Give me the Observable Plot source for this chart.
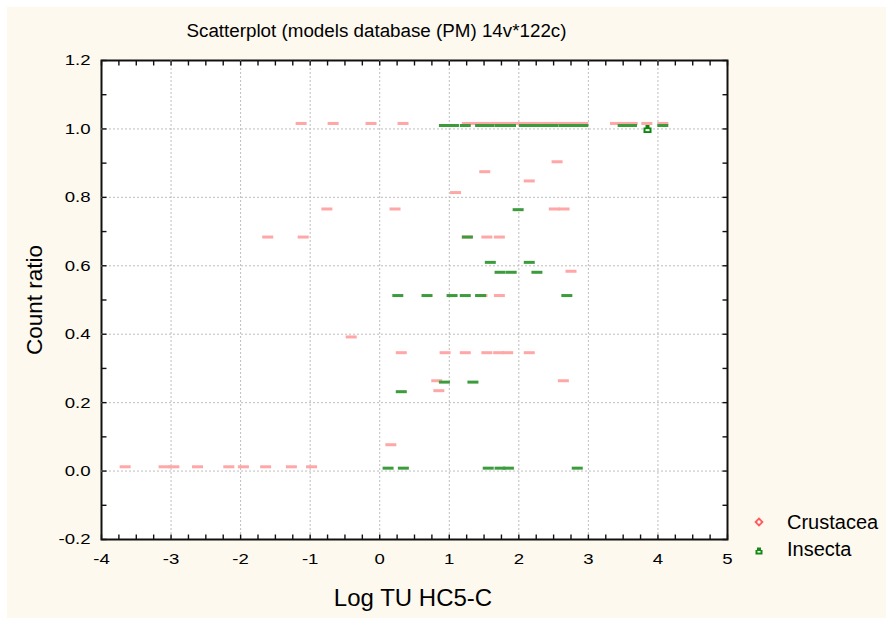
<!DOCTYPE html>
<html><head><meta charset="utf-8">
<script src="https://cdn.jsdelivr.net/npm/d3@7"></script>
<script src="https://cdn.jsdelivr.net/npm/@observablehq/plot@0.6"></script>
<style>
html,body{margin:0;padding:0;background:#fff;}
#wrap{position:relative;width:886px;height:618px;overflow:hidden;}
#bg{position:absolute;left:7px;top:7px;right:0;bottom:0;background:#fdf9ef;}
#chart{position:absolute;left:0;top:0;}
.t{position:absolute;font-family:"Liberation Sans",Arial,sans-serif;color:#000;white-space:nowrap;line-height:1;}
.ico{position:absolute;}
</style></head>
<body>
<div id="wrap">
<div id="bg"></div>
<div class="t" id="title" style="left:376.5px;top:22px;font-size:18.8px;transform:translateX(-50%);">Scatterplot (models database (PM) 14v*122c)</div>
<div class="t" id="ylab" style="left:35px;top:300px;font-size:22.5px;transform:translate(-50%,-50%) rotate(-90deg);">Count ratio</div>
<div class="t" id="xlab" style="left:413px;top:585.5px;font-size:24px;transform:translateX(-50%);">Log TU HC5-C</div>
<svg class="ico" style="left:752px;top:515px" width="14" height="14"><path d="M7,2.3L11.7,7L7,11.7L2.3,7Z" fill="#ff5a5a"/><circle cx="7" cy="7" r="1.7" fill="#fff"/></svg>
<div class="t" style="left:787px;top:512px;font-size:20px;">Crustacea</div>
<svg class="ico" style="left:752px;top:544px" width="14" height="14"><path d="M5,3.5H9V6H10.5V10.5H3.5V6H5Z" fill="#138a13"/><rect x="5.5" y="7" width="3" height="1.6" fill="#fff"/></svg>
<div class="t" style="left:787px;top:538.5px;font-size:20px;">Insecta</div>
<div id="chart"></div>
</div>
<script>
// ---- data ----
const crustaceaX = [-1.13, -0.67, -0.125, 0.335, 1.26, 1.40, 1.55, 1.69, 1.83, 1.98, 2.12, 2.26, 2.41, 2.55, 2.69, 2.84, 2.92, 3.39, 3.51, 3.63, 3.84, 4.07,
  2.55, 1.51, 2.15, 1.09,
  -0.76, 0.22, 2.51, 2.65,
  -1.61, -1.10, 1.26, 1.54, 1.72,
  2.75, 1.47, 1.72, -0.41,
  0.31, 0.94, 1.23, 1.54, 1.71, 1.84, 2.15,
  0.82, 2.64, 0.85, 0.16,
  -3.66, -3.10, -2.96, -2.62, -2.17, -1.96, -1.64, -1.27, -0.98];
const crustaceaY = [1.016, 1.016, 1.016, 1.016, 1.016, 1.016, 1.016, 1.016, 1.016, 1.016, 1.016, 1.016, 1.016, 1.016, 1.016, 1.016, 1.016, 1.016, 1.016, 1.016, 1.016, 1.016,
  0.904, 0.875, 0.848, 0.814,
  0.766, 0.766, 0.766, 0.766,
  0.684, 0.684, 0.684, 0.684, 0.684,
  0.584, 0.513, 0.513, 0.392,
  0.346, 0.346, 0.346, 0.346, 0.346, 0.346, 0.346,
  0.264, 0.264, 0.235, 0.077,
  0.0125, 0.0125, 0.0125, 0.0125, 0.0125, 0.0125, 0.0125, 0.0125, 0.0125];
const insectaX = [0.93, 1.06, 1.23, 1.45, 1.57, 1.73, 1.88, 2.08, 2.21, 2.36, 2.49, 2.65, 2.79, 2.92, 3.50, 3.62, 4.07,
  1.99, 1.26, 1.59, 2.15, 1.73, 1.89, 2.26,
  0.26, 0.68, 1.04, 1.23, 1.45, 2.69,
  0.93, 1.34, 0.31,
  0.12, 0.34, 1.56, 1.73, 1.85, 2.84];
const insectaY = [1.010, 1.010, 1.010, 1.010, 1.010, 1.010, 1.010, 1.010, 1.010, 1.010, 1.010, 1.010, 1.010, 1.010, 1.010, 1.010, 1.010,
  0.764, 0.684, 0.61, 0.61, 0.581, 0.581, 0.581,
  0.513, 0.513, 0.513, 0.513, 0.513, 0.513,
  0.26, 0.26, 0.232,
  0.0085, 0.0085, 0.0085, 0.0085, 0.0085, 0.0085];
const insectaBigX = [3.85];
const insectaBigY = [1.0];

const xTicks = [-4, -3, -2, -1, 0, 1, 2, 3, 4, 5];
const yTicks = [-0.2, 0, 0.2, 0.4, 0.6, 0.8, 1.0, 1.2];
const xGrid = [-3, -2, -1, 0, 1, 2, 3, 4];
const yGrid = [0, 0.2, 0.4, 0.6, 0.8, 1.0];

const crustacea = crustaceaX.map((x, i) => ({x, y: crustaceaY[i]}));
const insecta = insectaX.map((x, i) => ({x, y: insectaY[i]}));
const insectaBig = insectaBigX.map((x, i) => ({x, y: insectaBigY[i]}));

const xMinor = d3.range(-4, 5.0001, 0.25);
const yMinor = d3.range(-2, 12.0001, 1).map(v => v / 10);

const W = 886, H = 618, ML = 101, MR = 159, MT = 60, MB = 79;

const dash = {draw(ctx) { ctx.rect(-5.5, -1.5, 11, 3); }};
const house = {draw(ctx) {
  ctx.moveTo(-2, -4); ctx.lineTo(2, -4); ctx.lineTo(2, -1.5); ctx.lineTo(4, -1.5);
  ctx.lineTo(4, 4); ctx.lineTo(-4, 4); ctx.lineTo(-4, -1.5); ctx.lineTo(-2, -1.5); ctx.closePath();
}};
const hole = {draw(ctx) { ctx.rect(-2, 0.2, 4, 2); }};
// filled inward tick shapes (4.5 px long, 1.4 px thick)
const tickUp = {draw(ctx) { ctx.rect(-0.7, -5, 1.4, 5); }};
const tickDown = {draw(ctx) { ctx.rect(-0.7, 0, 1.4, 5); }};
const tickRight = {draw(ctx) { ctx.rect(0, -0.7, 5, 1.4); }};
const tickLeft = {draw(ctx) { ctx.rect(-5, -0.7, 5, 1.4); }};

const chart = Plot.plot({
  width: W, height: H,
  marginLeft: ML, marginRight: MR, marginTop: MT, marginBottom: MB,
  style: {fontFamily: '"Liberation Sans", Arial, sans-serif', fontSize: "15.5px", background: "transparent", color: "#000"},
  x: {domain: [-4, 5]},
  y: {domain: [-0.2, 1.2]},
  marks: [
    // frame: dark filled rect with white inset panel
    Plot.frame({fill: "#111", stroke: null, inset: -1}),
    Plot.frame({fill: "white", stroke: null, inset: 1}),
    Plot.ruleX(xGrid, {x: d => d, stroke: "#bdbdbd", strokeWidth: 1, strokeDasharray: "2,2"}),
    Plot.ruleY(yGrid, {y: d => d, stroke: "#bdbdbd", strokeWidth: 1, strokeDasharray: "2,2"}),
    Plot.dot(crustacea, {x: "x", y: "y", symbol: dash, fill: "#ffa6a6"}),
    Plot.dot(insecta, {x: "x", y: "y", symbol: dash, fill: "#3c9c3c"}),
    Plot.dot(insectaBig, {x: "x", y: "y", symbol: house, fill: "#0d870d"}),
    Plot.dot(insectaBig, {x: "x", y: "y", symbol: hole, fill: "#fff"}),
    // inward frame ticks
    Plot.dot(xMinor, {x: d => d, y: () => -0.2, symbol: tickUp, fill: "#111"}),
    Plot.dot(xMinor, {x: d => d, y: () => 1.2, symbol: tickDown, fill: "#111"}),
    Plot.dot(yMinor, {y: d => d, x: () => -4, symbol: tickRight, fill: "#111"}),
    Plot.dot(yMinor, {y: d => d, x: () => 5, symbol: tickLeft, fill: "#111"}),
    Plot.axisX(xTicks, {anchor: "bottom", tickSize: 0, tickPadding: 13, tickFormat: d => String(d), label: null}),
    Plot.axisY(yTicks, {anchor: "left", tickSize: 0, tickPadding: 11, tickFormat: d => d.toFixed(1), label: null})
  ]
});
document.getElementById("chart").appendChild(chart);

// widen tick label glyphs like the reference
chart.querySelectorAll('g[aria-label$="tick label"] text').forEach(t => {
  if (!t.textContent) return;
  const tr = t.getAttribute("transform");
  if (tr) t.setAttribute("transform", tr + " scale(1.2,1)");
});
</script>
</body></html>
